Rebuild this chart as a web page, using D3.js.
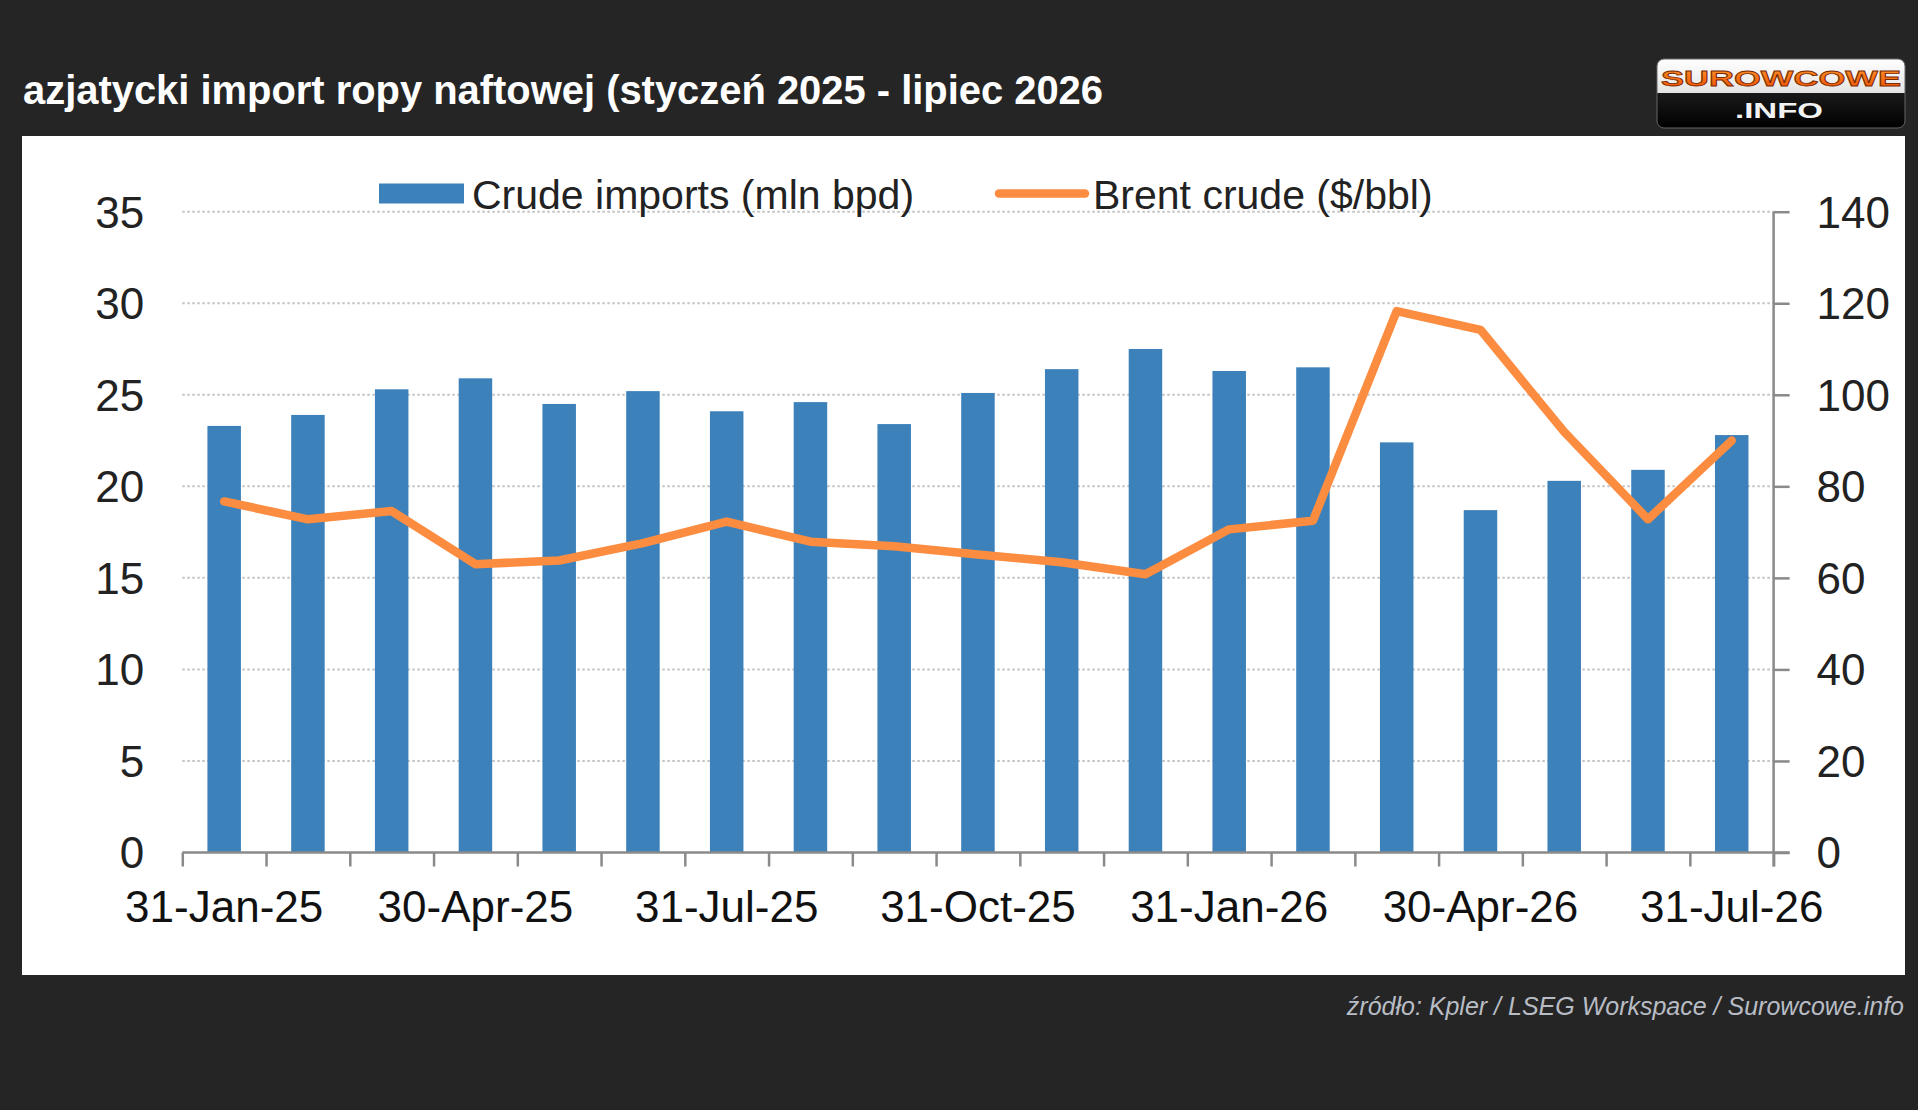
<!DOCTYPE html>
<html>
<head>
<meta charset="utf-8">
<script src="https://cdn.jsdelivr.net/npm/d3@7"></script>
<style>
  html, body { margin: 0; padding: 0; background: #252525; }
  svg { display: block; }
  text { font-family: "Liberation Sans", Arial, sans-serif; }
</style>
</head>
<body>
<svg id="chart" width="1918" height="1110"></svg>
<script>
// ---- data ----
const categories = ["31-Jan-25","28-Feb-25","31-Mar-25","30-Apr-25","31-May-25","30-Jun-25","31-Jul-25","31-Aug-25","30-Sep-25","31-Oct-25","30-Nov-25","31-Dec-25","31-Jan-26","28-Feb-26","31-Mar-26","30-Apr-26","31-May-26","30-Jun-26","31-Jul-26"];
const crudeImports = [23.3, 23.9, 25.3, 25.9, 24.5, 25.2, 24.1, 24.6, 23.4, 25.1, 26.4, 27.5, 26.3, 26.5, 22.4, 18.7, 20.3, 20.9, 22.8];
const brentCrude = [76.7, 72.8, 74.6, 63.0, 63.8, 67.6, 72.3, 67.9, 66.9, 65.1, 63.4, 60.8, 70.6, 72.5, 118.3, 114.2, 91.9, 72.8, 90.0];
const xTickLabels = ["31-Jan-25","30-Apr-25","31-Jul-25","31-Oct-25","31-Jan-26","30-Apr-26","31-Jul-26"];
const leftTicks = [0, 5, 10, 15, 20, 25, 30, 35];
const rightTicks = [0, 20, 40, 60, 80, 100, 120, 140];
const seriesNames = ["Crude imports (mln bpd)", "Brent crude ($/bbl)"];
const titleText = "azjatycki import ropy naftowej (styczeń 2025 - lipiec 2026";
const sourceText = "źródło: Kpler / LSEG Workspace / Surowcowe.info";

// ---- layout ----
const svg = d3.select("#chart");
const W = 1918, H = 1110;
const plotL = 182.3, plotR = 1773.6, plotT = 211.7, plotB = 852.5;
const barColor = "#3d81ba", lineColor = "#fb8c40", axisColor = "#8a8a8a";

svg.append("rect").attr("width", W).attr("height", H).attr("fill", "#252525");

// title
svg.append("text").attr("x", 23).attr("y", 104)
  .attr("fill", "#ffffff").attr("font-size", 40).attr("font-weight", "bold")
  .attr("textLength", 1080).attr("lengthAdjust", "spacingAndGlyphs")
  .text(titleText);

// logo
const logo = svg.append("g").attr("transform", "translate(1657,59)");
const defs = svg.append("defs");
defs.append("clipPath").attr("id", "logoClip").append("rect")
  .attr("width", 248).attr("height", 69).attr("rx", 7);
const gTop = defs.append("linearGradient").attr("id", "gTop").attr("x1", 0).attr("x2", 0).attr("y1", 0).attr("y2", 1);
gTop.append("stop").attr("offset", "0%").attr("stop-color", "#ffffff");
gTop.append("stop").attr("offset", "100%").attr("stop-color", "#e4e4e4");
const gBot = defs.append("linearGradient").attr("id", "gBot").attr("x1", 0).attr("x2", 0).attr("y1", 0).attr("y2", 1);
gBot.append("stop").attr("offset", "0%").attr("stop-color", "#1a1a1a");
gBot.append("stop").attr("offset", "100%").attr("stop-color", "#000000");
const gOr = defs.append("linearGradient").attr("id", "gOr").attr("x1", 0).attr("x2", 0).attr("y1", 0).attr("y2", 1);
gOr.append("stop").attr("offset", "0%").attr("stop-color", "#ff9a2e");
gOr.append("stop").attr("offset", "100%").attr("stop-color", "#f04a00");
const lg = logo.append("g").attr("clip-path", "url(#logoClip)");
lg.append("rect").attr("width", 248).attr("height", 34).attr("fill", "url(#gTop)");
lg.append("rect").attr("y", 34).attr("width", 248).attr("height", 35).attr("fill", "url(#gBot)");
logo.append("rect").attr("width", 248).attr("height", 69).attr("rx", 7)
  .attr("fill", "none").attr("stroke", "#666").attr("stroke-width", 1);
logo.append("text").attr("x", 4).attr("y", 26.5)
  .attr("font-size", 22).attr("font-weight", "bold")
  .attr("fill", "url(#gOr)").attr("stroke", "#7a2a00").attr("stroke-width", 0.8)
  .attr("textLength", 240).attr("lengthAdjust", "spacingAndGlyphs")
  .text("SUROWCOWE");
logo.append("text").attr("x", 78).attr("y", 58.5)
  .attr("font-size", 22).attr("font-weight", "bold").attr("fill", "#f2f2f2")
  .attr("textLength", 88).attr("lengthAdjust", "spacingAndGlyphs")
  .text(".INFO");

// white panel
svg.append("rect").attr("x", 22).attr("y", 136).attr("width", 1883).attr("height", 839).attr("fill", "#ffffff");

// source
svg.append("text").attr("x", 1904).attr("y", 1015).attr("text-anchor", "end")
  .attr("font-size", 25).attr("font-style", "italic").attr("fill", "#b8bcc4")
  .text(sourceText);

// ---- scales ----
const x = d3.scaleBand().domain(categories).range([plotL, plotR]).paddingInner(0.6).paddingOuter(0.3);
const xIdx = d3.scaleLinear().domain([0, categories.length]).range([plotL, plotR]);
const yL = d3.scaleLinear().domain([0, 35]).range([plotB, plotT]);
const yR = d3.scaleLinear().domain([0, 140]).range([plotB, plotT]);

// gridlines
svg.append("g").selectAll("line").data(leftTicks.filter(d => d > 0)).join("line")
  .attr("x1", plotL).attr("x2", plotR)
  .attr("y1", d => yL(d)).attr("y2", d => yL(d))
  .attr("stroke", "#c4c4c4").attr("stroke-width", 2).attr("stroke-dasharray", "2.5,2.5");

// bars
svg.append("g").selectAll("rect").data(crudeImports).join("rect")
  .attr("x", (d, i) => x(categories[i]))
  .attr("width", x.bandwidth())
  .attr("y", d => yL(d))
  .attr("height", d => yL(0) - yL(d))
  .attr("fill", barColor);

// bottom axis: boundary ticks
const bAxis = svg.append("g").attr("transform", `translate(0,${plotB})`)
  .call(d3.axisBottom(xIdx).tickValues(d3.range(0, categories.length + 1)).tickSize(14).tickFormat(""));
bAxis.select(".domain").remove();
bAxis.selectAll("line").attr("stroke", axisColor).attr("stroke-width", 2.5);
svg.append("line").attr("x1", plotL).attr("x2", plotR + 16).attr("y1", plotB).attr("y2", plotB)
  .attr("stroke", axisColor).attr("stroke-width", 2.5);

// bottom axis labels
const lAxis = svg.append("g").attr("transform", `translate(0,${plotB})`)
  .call(d3.axisBottom(x).tickValues(xTickLabels).tickSize(0));
lAxis.select(".domain").remove();
lAxis.selectAll("text").attr("y", 69).attr("dy", 0)
  .attr("font-size", 44).attr("fill", "#111").attr("font-family", "Liberation Sans, Arial, sans-serif");

// left axis
const leftAx = svg.append("g").attr("transform", `translate(${plotL},0)`)
  .call(d3.axisLeft(yL).tickValues(leftTicks).tickSize(0).tickPadding(38));
leftAx.select(".domain").remove();
leftAx.selectAll("text").attr("font-size", 44).attr("fill", "#222").attr("dy", "0.35em")
  .attr("font-family", "Liberation Sans, Arial, sans-serif");

// right axis
const rightAx = svg.append("g").attr("transform", `translate(${plotR},0)`)
  .call(d3.axisRight(yR).tickValues(rightTicks).tickSize(16).tickPadding(27));
rightAx.select(".domain").remove();
rightAx.selectAll("line").attr("stroke", axisColor).attr("stroke-width", 2.5);
rightAx.selectAll("text").attr("font-size", 44).attr("fill", "#222").attr("dy", "0.35em")
  .attr("font-family", "Liberation Sans, Arial, sans-serif");
svg.append("line").attr("x1", plotR).attr("x2", plotR).attr("y1", plotT).attr("y2", plotB + 14)
  .attr("stroke", axisColor).attr("stroke-width", 2.5);

// line
const line = d3.line()
  .x((d, i) => x(categories[i]) + x.bandwidth() / 2)
  .y(d => yR(d));
svg.append("path").datum(brentCrude).attr("d", line)
  .attr("fill", "none").attr("stroke", lineColor).attr("stroke-width", 8.5)
  .attr("stroke-linejoin", "round").attr("stroke-linecap", "round");

// legend
const leg = svg.append("g");
leg.append("rect").attr("x", 379).attr("y", 183.5).attr("width", 85).attr("height", 20).attr("fill", barColor);
leg.append("text").attr("x", 472).attr("y", 209).attr("font-size", 41).attr("fill", "#222")
  .text(seriesNames[0]);
leg.append("line").attr("x1", 999).attr("x2", 1085).attr("y1", 193.5).attr("y2", 193.5)
  .attr("stroke", lineColor).attr("stroke-width", 8.5).attr("stroke-linecap", "round");
leg.append("text").attr("x", 1093).attr("y", 209).attr("font-size", 41).attr("fill", "#222")
  .text(seriesNames[1]);
</script>
</body>
</html>
